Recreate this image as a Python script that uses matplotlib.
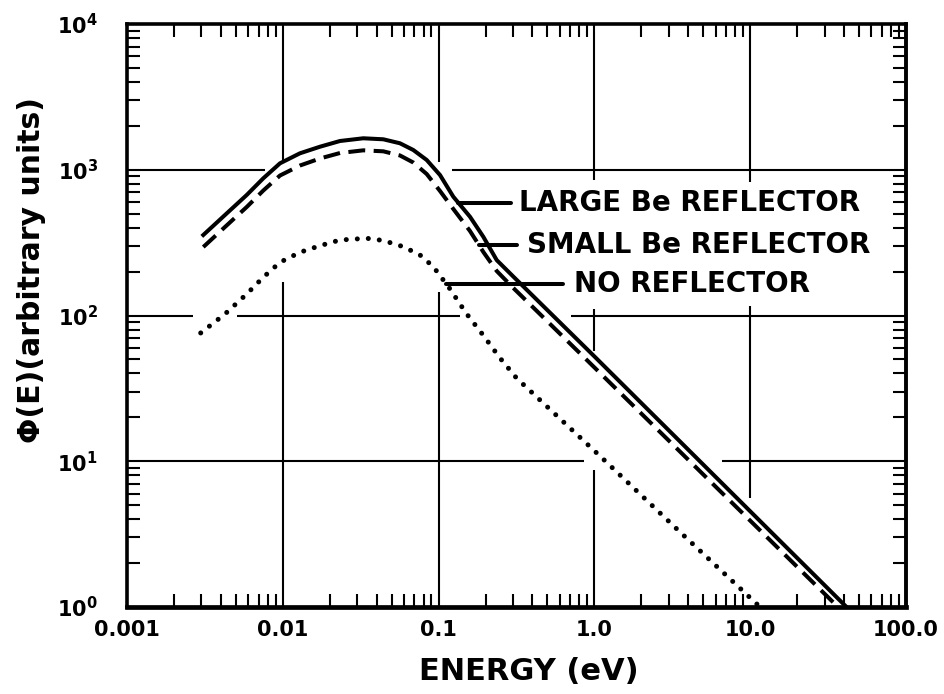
import numpy as np
import matplotlib
matplotlib.use("Agg")
import matplotlib.pyplot as plt
from matplotlib.ticker import FixedLocator, FixedFormatter, NullFormatter

plt.rcParams["font.family"] = ["DejaVu Sans"]
plt.rcParams["font.weight"] = "bold"
plt.rcParams["mathtext.fontset"] = "dejavusans"

# Neutron flux spectra: energy (eV) and flux (arbitrary units)
large_energy = [0.003088, 0.004256, 0.005865, 0.007495, 0.009594, 0.01289,
                0.01733, 0.02329, 0.03286, 0.04416, 0.05651, 0.06880,
                0.08386, 0.1021, 0.1243, 0.1590, 0.1936, 0.2360, 0.3016,
                1.009, 41.5]
large_flux = [356.7, 489.3, 671, 873.5, 1107, 1297, 1439, 1575, 1644, 1618,
              1519, 1366, 1167, 920, 653, 476, 347, 240, 185, 51.9, 1.0]

small_energy = [0.003088, 0.004256, 0.005865, 0.007495, 0.009594, 0.01289,
                0.01733, 0.02329, 0.03286, 0.04416, 0.05651, 0.06880,
                0.08386, 0.1021, 0.1243, 0.1590, 0.1936, 0.2360, 0.3016,
                1.009, 36.6]
small_flux = [295, 405, 555, 720, 913, 1069, 1195, 1303, 1359, 1338, 1253,
              1121, 935, 715, 538, 380, 273, 202, 154.5, 43.6, 1.0]

none_energy = [0.002972, 0.004256, 0.005865, 0.007495, 0.009594, 0.01289,
               0.01733, 0.02329, 0.03455, 0.04416, 0.05934, 0.07596,
               0.09247, 0.1184, 0.1499, 0.1928, 0.2477, 0.3171, 1.086,
               3.544, 11.56]
none_flux = [75.9, 102.4, 140.4, 182.9, 231.7, 271.4, 301.2, 329.6, 338.6,
             327.0, 296.5, 260.1, 216.2, 152.0, 104.0, 73.5, 51.1, 37.1,
             10.86, 3.27, 1.0]

x_ticks = [0.001, 0.01, 0.1, 1.0, 10.0, 100.0]
x_tick_labels = ["0.001", "0.01", "0.1", "1.0", "10.0", "100.0"]
y_ticks = [1, 10, 100, 1000, 10000]
y_tick_labels = [r"$\mathbf{10^{0}}$", r"$\mathbf{10^{1}}$", r"$\mathbf{10^{2}}$",
                 r"$\mathbf{10^{3}}$", r"$\mathbf{10^{4}}$"]

# Grid drawn as broken segments so it stays clear of the curves and labels
vgrid = [(0.01, 1e4, 1130), (0.01, 170, 1),
         (0.1, 1e4, 1130), (0.1, 145, 1),
         (1.0, 1e4, 850), (1.0, 111, 57), (1.0, 8.7, 1),
         (10.0, 1e4, 830), (10.0, 116, 5.6)]
hgrid = [(1000, 0.001, 0.00769), (1000, 0.122, 100),
         (100, 0.001, 0.00265), (100, 0.00508, 0.137), (100, 0.708, 100),
         (10, 0.001, 0.857), (10, 6.59, 100)]

fig = plt.figure(figsize=(9.44, 6.94), dpi=100)
ax = fig.add_axes([127 / 944, 1 - 607 / 694, (906 - 127) / 944, (607 - 24) / 694])
ax.set_xscale("log")
ax.set_yscale("log")
ax.set_xlim(1e-3, 1e2)
ax.set_ylim(1, 1e4)

for x, y0, y1 in vgrid:
    ax.plot([x, x], [y0, y1], color="black", lw=1.5, zorder=1, solid_capstyle="butt")
for y, x0, x1 in hgrid:
    ax.plot([x0, x1], [y, y], color="black", lw=1.5, zorder=1, solid_capstyle="butt")

ax.plot(large_energy, large_flux, color="black", lw=2.9, zorder=3,
        solid_joinstyle="round")
ax.plot(small_energy, small_flux, color="black", lw=2.9, zorder=3,
        linestyle=(0, (4.2, 2.1)))
ax.plot(none_energy, none_flux, color="black", lw=3.6, zorder=3,
        linestyle=(0, (0.01, 2.2)), dash_capstyle="round")


def curve_at(energy, flux, e):
    return 10 ** np.interp(np.log10(e), np.log10(energy), np.log10(flux))


labels = [
    ("LARGE Be REFLECTOR", large_energy, large_flux, 0.134, 0.292, 0.328),
    ("SMALL Be REFLECTOR", small_energy, small_flux, 0.1815, 0.318, 0.367),
    ("NO REFLECTOR", none_energy, none_flux, 0.112, 0.628, 0.745),
]
for text, en, fl, e0, e1, et in labels:
    y = curve_at(en, fl, e0)
    ax.plot([e0, e1], [y, y], color="black", lw=2.9, zorder=3,
            solid_capstyle="round")
    ax.text(et, y, text, fontsize=20, fontweight="bold", ha="left",
            va="center", zorder=4)

ax.xaxis.set_major_locator(FixedLocator(x_ticks))
ax.xaxis.set_major_formatter(FixedFormatter(x_tick_labels))
ax.yaxis.set_major_locator(FixedLocator(y_ticks))
ax.yaxis.set_major_formatter(FixedFormatter(y_tick_labels))

minor_x = [m * 10.0 ** d for d in range(-3, 2) for m in range(2, 10)]
minor_y = [m * 10.0 ** d for d in range(0, 4) for m in range(2, 10)]
ax.xaxis.set_minor_locator(FixedLocator(minor_x))
ax.yaxis.set_minor_locator(FixedLocator(minor_y))
ax.xaxis.set_minor_formatter(NullFormatter())
ax.yaxis.set_minor_formatter(NullFormatter())

ax.tick_params(which="major", length=0, top=True, right=True)
ax.tick_params(axis="x", which="major", labelsize=15, pad=9)
ax.tick_params(axis="y", which="major", labelsize=15, pad=21)
ax.tick_params(which="minor", direction="in", length=9.5, width=1.5,
               top=True, right=True, bottom=True, left=True)

for side, lw in (("left", 2.6), ("right", 2.8), ("top", 2.6), ("bottom", 3.4)):
    ax.spines[side].set_linewidth(lw)

fig.text(529 / 944, 1 - 672 / 694, "ENERGY (eV)", fontsize=22,
         fontweight="bold", ha="center", va="center")
fig.text(32 / 944, 1 - 270 / 694, "\u03a6(E)(arbitrary units)", fontsize=21.5,
         fontweight="bold", ha="center", va="center", rotation=90)

fig.savefig("out.png", dpi=100)
